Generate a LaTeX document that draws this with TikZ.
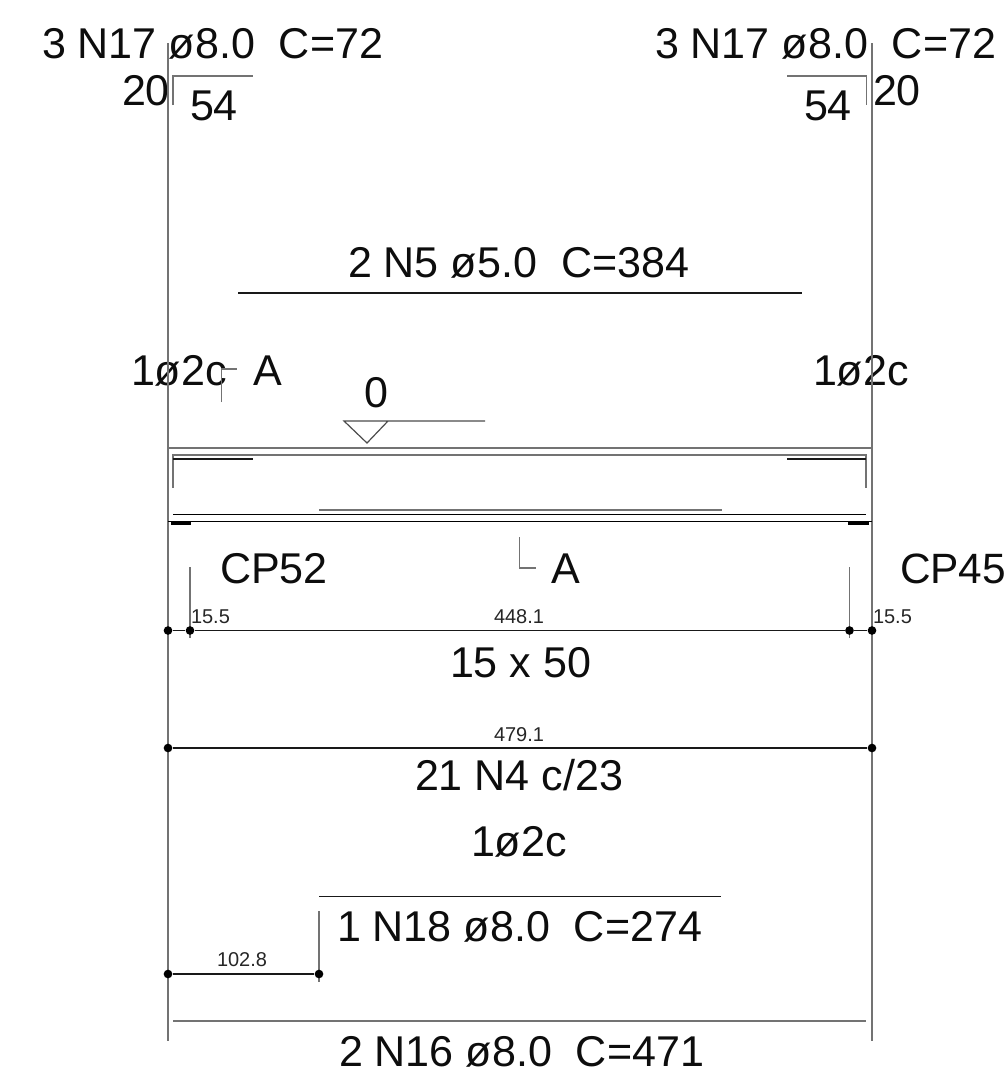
\documentclass[tikz,border=0pt]{standalone}
\usepackage{fontspec}
\setmainfont{Liberation Sans}
\tikzset{
  big/.style={inner sep=0pt,outer sep=0pt,anchor=base west,font=\fontsize{32.3pt}{36pt}\selectfont,text=black!95},
  small/.style={inner sep=0pt,outer sep=0pt,anchor=base west,font=\fontsize{15pt}{17pt}\selectfont,text=black!85},
  ln/.style={line width=0.9pt,black!90},
  gl/.style={line width=0.9pt,black!55},
  dot/.style={circle,fill=black,inner sep=0pt,minimum size=6.5pt},
  pad/.style={fill=black,draw=none}
}
\begin{document}
\begin{tikzpicture}[x=0.75pt,y=-0.75pt]
\useasboundingbox (0,0) rectangle (1006,1076);
% texts
\node[big] (t1) at (42,58.5) {3 N17 ø8.0\ \ C=72};
\node[big] (t2) at (655,58.5) {3 N17 ø8.0\ \ C=72};
\node[big] (t3) at (122,105.5) {20};
\node[big] (t4) at (190,120) {54};
\node[big] (t5) at (804,120) {54};
\node[big] (t6) at (873,105.5) {20};
\node[big] (t7) at (348,277) {2 N5 ø5.0\ \ C=384};
\node[big] (t8) at (131,385) {1ø2c};
\node[big] (t9) at (253,385) {A};
\node[big] (t10) at (813,385) {1ø2c};
\node[big] (t11) at (364,407) {0};
\node[big] (t12) at (220,583) {CP52};
\node[big] (t13) at (551,583) {A};
\node[big,font=\fontsize{31.8pt}{36pt}\selectfont] (t14) at (900,583) {CP45};
\node[small] (d1) at (191,623) {15.5};
\node[small] (d2) at (494,623) {448.1};
\node[small] (d3) at (873,623) {15.5};
\node[big] (t15) at (450,677) {15 x 50};
\node[small] (d4) at (494,741.5) {479.1};
\node[big] (t16) at (415,790) {21 N4 c/23};
\node[big] (t17) at (471,856) {1ø2c};
\node[big] (t18) at (337,941) {1 N18 ø8.0\ \ C=274};
\node[small] (d5) at (217,966.5) {102.8};
\node[big] (t19) at (339,1066) {2 N16 ø8.0\ \ C=471};
% named points
\coordinate (La) at (168,43);
\coordinate (Lb) at (168,1067);
\coordinate (Ra) at (872,43);
\coordinate (Rb) at (872,1041);
% grid lines
\draw[gl] (La) -- (168,1041);
\draw[gl] (Ra) -- (Rb);
% top hooks
\coordinate (h1) at (173,105); \coordinate (h2) at (173,76); \coordinate (h3) at (253,76);
\coordinate (h4) at (787,76); \coordinate (h5) at (866.5,76); \coordinate (h6) at (866.5,105);
\draw[gl] (h1) -- (h2) -- (h3);
\draw[gl] (h4) -- (h5) -- (h6);
% N5
\coordinate (n5a) at (238,293); \coordinate (n5b) at (802,293);
\draw[ln] (n5a) -- (n5b);
% section marks
\coordinate (s1) at (221.5,402); \coordinate (s2) at (221.5,369); \coordinate (s3) at (237,369);
\draw[gl] (s1) -- (s2) -- (s3);
\coordinate (s4) at (519.5,537); \coordinate (s5) at (519.5,568); \coordinate (s6) at (536,568);
\draw[gl] (s4) -- (s5) -- (s6);
% level mark
\coordinate (l1) at (344,421); \coordinate (l2) at (367,443); \coordinate (l3) at (388,421); \coordinate (l4) at (485,421);
\draw[ln,black!70] (l3) -- (l1) -- (l2) -- (l3) -- (l4);
% beam
\coordinate (b1) at (168,448); \coordinate (b2) at (872,448);
\coordinate (b3) at (168,521.6); \coordinate (b4) at (872,521.6);
\draw[gl] (b1) -- (b2);
\draw[ln,black] (b3) -- (b4);
% rebars in beam
\coordinate (r1) at (173,488); \coordinate (r2) at (173,455); \coordinate (r3) at (866,455); \coordinate (r4) at (866,488);
\draw[gl] (r1) -- (r2) -- (r3) -- (r4);
\coordinate (r5) at (173,459); \coordinate (r6) at (253,459);
\coordinate (r7) at (787,459); \coordinate (r8) at (866,459);
\draw[ln] (r5) -- (r6);
\draw[ln] (r7) -- (r8);
\coordinate (r9) at (173,514.5); \coordinate (r10) at (866,514.5);
\draw[ln,black] (r9) -- (r10);
\coordinate (r11) at (319,510); \coordinate (r12) at (722,510);
\draw[gl] (r11) -- (r12);
% supports
\fill[pad] (171,521.6) rectangle (191,525);
\fill[pad] (848,521.6) rectangle (869,525);
% column ticks
\coordinate (c1) at (190,567); \coordinate (c2) at (190,638);
\coordinate (c3) at (849.5,567); \coordinate (c4) at (849.5,638);
\draw[gl] (c1) -- (c2);
\draw[gl] (c3) -- (c4);
% dimension 1
\node[dot] (p1) at (168,630.5) {};
\node[dot] (p2) at (190,630.5) {};
\node[dot] (p3) at (849.5,630.5) {};
\node[dot] (p4) at (872,630.5) {};
\draw[ln] (p1) -- (p2) -- (p3) -- (p4);
% dimension 2
\node[dot] (p5) at (168,748) {};
\node[dot] (p6) at (872,748) {};
\draw[ln] (p5) -- (p6);
% N18
\coordinate (n18a) at (319,896.5); \coordinate (n18b) at (721,896.5);
\draw[ln] (n18a) -- (n18b);
\coordinate (v1) at (319,911); \coordinate (v2) at (319,982);
\draw[gl] (v1) -- (v2);
\node[dot] (p7) at (168,974) {};
\node[dot] (p8) at (319,974) {};
\draw[ln] (p7) -- (p8);
% N16
\coordinate (n16a) at (173,1021); \coordinate (n16b) at (866,1021);
\draw[gl] (n16a) -- (n16b);
\end{tikzpicture}
\end{document}
